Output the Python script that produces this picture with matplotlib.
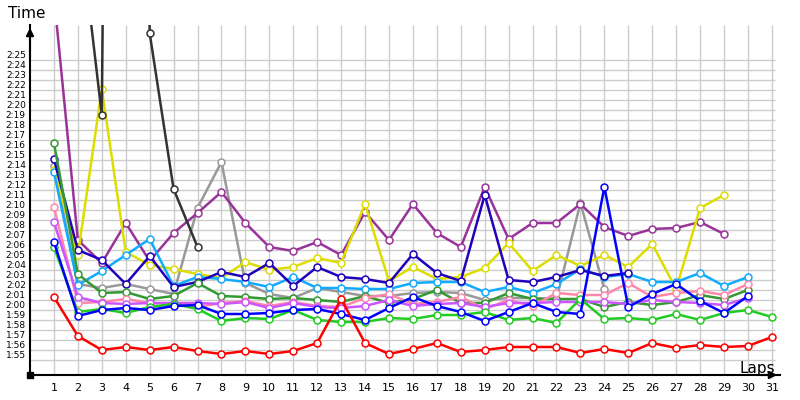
import numpy as np
import matplotlib
matplotlib.use("Agg")
import matplotlib.pyplot as plt

nan = np.nan

# lap times in seconds (2:00 = 120)
laps = list(range(1, 32))

red = [121.3, 117.4, 116.0, 116.3, 116.0, 116.3, 115.9, 115.6, 115.9, 115.6,
       115.9, 116.7, 121.1, 116.7, 115.6, 116.1, 116.7, 115.8, 116.0, 116.3,
       116.3, 116.3, 115.7, 116.1, 115.7, 116.7, 116.2, 116.5, 116.3, 116.4, 117.3]
green = [126.3, 119.8, 120.1, 119.7, 120.3, 120.6, 120.1, 118.9, 119.2, 119.1,
         120.0, 119.0, 118.8, 118.8, 119.2, 119.1, 119.5, 119.5, 119.8, 119.0,
         119.2, 118.7, 121.1, 119.1, 119.2, 119.0, 119.6, 119.0, 119.7, 120.0, 119.3]
darkgreen = [136.7, 123.6, 121.7, 121.8, 121.1, 121.4, 122.7, 121.4, 121.3, 121.1,
             121.2, 121.0, 120.8, 121.4, 120.7, 121.1, 122.0, 120.7, 120.7, 121.7,
             121.1, 121.1, 121.1, 120.3, 120.8, 120.5, 120.8, 121.5, 121.1, 122.0, nan]
blue = [126.8, 119.4, 120.0, 120.2, 120.0, 120.4, 120.5, 119.6, 119.6, 119.7,
        120.0, 120.1, 119.6, 119.0, 120.2, 121.3, 120.4, 119.8, 118.9, 119.8,
        120.7, 119.8, 119.6, 132.3, 120.3, 121.6, 122.6, 120.9, 119.7, 121.4, nan]
darkblue = [135.1, 126.0, 125.0, 122.6, 125.4, 122.3, 122.8, 123.8, 123.3, 124.7,
            122.4, 124.3, 123.3, 123.1, 122.7, 125.6, 123.7, 122.9, 131.5, 123.0,
            122.8, 123.3, 124.0, 123.4, 123.7] + [nan] * 6
lightblue = [133.8, 122.5, 123.9, 125.5, 127.1, 122.4, 123.3, 123.1, 122.8, 122.3,
             123.3, 122.2, 122.2, 122.1, 122.1, 122.7, 122.8, 122.8, 121.8, 122.3,
             121.7, 122.6, 124.1, 123.3, 123.6, 122.8, 122.8, 123.7, 122.4, 123.3, nan]
yellow = [134.0, 125.5, 142.1, 125.8, 124.5, 124.1, 123.6, 123.2, 124.8, 124.0,
          124.3, 125.2, 124.7, 130.6, 122.9, 124.3, 123.1, 123.3, 124.2, 126.7,
          123.9, 125.5, 124.4, 125.5, 124.3, 126.6, 122.1, 130.2, 131.5, nan, nan]
purple = [151.4, 127.0, 124.7, 128.7, 124.9, 127.7, 129.7, 131.8, 128.7, 126.3,
          125.9, 126.8, 125.5, 129.8, 127.0, 130.6, 127.7, 126.3, 132.3, 127.1,
          128.7, 128.7, 130.6, 128.3, 127.4, 128.1, 128.2, 128.8, 127.6, nan, nan]
gray = [134.4, 122.6, 122.2, 122.6, 122.1, 121.6, 130.2, 134.8, 122.7, 121.6,
        121.2, 122.2, 121.8, 121.4, 121.4, 121.7, 121.8, 121.7, 121.0, 121.2,
        121.2, 121.1, 130.7, 122.1] + [nan] * 7
pink = [130.3, 120.7, 120.8, 121.1, 120.7, 120.6, 120.3, 120.7, 120.9, 120.4,
        120.8, 120.4, 120.3, 121.2, 121.6, 120.6, 120.8, 121.3, 120.1, 121.0,
        120.4, 121.7, 121.5, 121.5, 122.7, 121.3, 121.7, 121.9, 121.5, 122.6, nan]
violet = [128.8, 121.3, 120.7, 120.6, 120.7, 120.7, 120.7, 120.6, 120.8, 120.2,
          120.7, 120.3, 120.2, 120.4, 121.0, 120.4, 120.6, 120.7, 120.3, 120.7,
          120.7, 120.8, 120.8, 120.8, 120.6, 121.0, 120.8, 120.7, 120.5, 121.2, nan]
black = [nan, 160.0, 139.5, 400.0, 147.7, 132.1, 126.3] + [nan] * 24

series = [
    (gray, "#999999"),
    (purple, "#993399"),
    (yellow, "#dddd00"),
    (black, "#333333"),
    (lightblue, "#11aaff"),
    (darkblue, "#2200bb"),
    (darkgreen, "#339933"),
    (pink, "#ff88aa"),
    (violet, "#cc55ff"),
    (green, "#22cc22"),
    (blue, "#0000ff"),
    (red, "#ff0000"),
]

y_ticks = list(range(115, 146))
y_labels = ["%d:%02d" % (s // 60, s % 60) for s in y_ticks]

fig = plt.figure(figsize=(8, 4), dpi=100)
ax = fig.add_axes([30 / 800, 25 / 400, 750 / 800, 350 / 400])
ax.set_xlim(0, 31.34)
ax.set_ylim(113.5, 148.5)

# grid
ax.vlines(laps, 113.5, 148.5, color="#cccccc", lw=1, zorder=0)
ax.hlines(y_ticks, 0, 31.13, color="#cccccc", lw=1, zorder=0)

for vals, col in series:
    ax.plot(laps, vals, color=col, lw=1.8, marker="o", ms=5,
            mfc="white", mec=col, mew=1.1, zorder=2)

for s in ["top", "right"]:
    ax.spines[s].set_visible(False)
ax.spines["left"].set_linewidth(1.5)
ax.spines["bottom"].set_linewidth(1.5)

ax.set_xticks(laps)
ax.set_xticklabels([str(l) for l in laps], fontsize=8)
ax.set_yticks(y_ticks)
ax.set_yticklabels(y_labels, fontsize=6.5)
for lbl in ax.get_yticklabels():
    lbl.set_va("bottom")
ax.tick_params(length=0, pad=3)
ax.tick_params(axis="x", pad=6)

# arrows on axes
ax.annotate("", xy=(0, 1.0), xytext=(0, 0.9), xycoords="axes fraction",
            arrowprops=dict(arrowstyle="-|>", color="black", lw=1.5,
                            mutation_scale=11), annotation_clip=False)
ax.annotate("", xy=(1.0, 0), xytext=(0.97, 0), xycoords="axes fraction",
            arrowprops=dict(arrowstyle="-|>", color="black", lw=1.5,
                            mutation_scale=11), annotation_clip=False)
ax.plot([0], [113.5], marker="s", ms=4, color="black", clip_on=False, zorder=5)

fig.text(8 / 800, 1 - 14 / 400, "Time", fontsize=11, va="center", ha="left")
fig.text(775 / 800, 1 - 368 / 400, "Laps", fontsize=11, va="center", ha="right")

fig.savefig("out.png", dpi=100)
